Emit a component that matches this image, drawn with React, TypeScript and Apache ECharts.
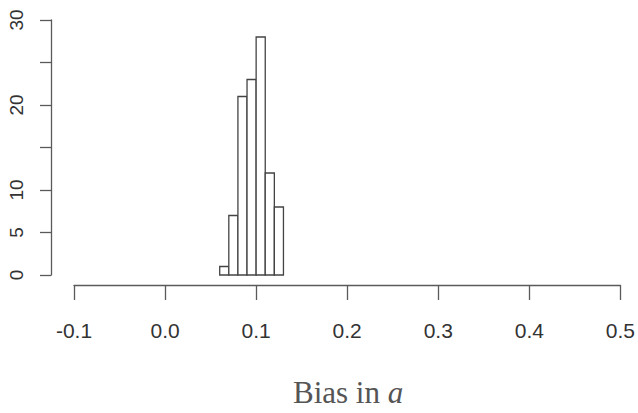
import React, { useEffect, useRef } from "react";
import * as echarts from "echarts";

// Histogram bin edges (width 0.01) and the counts in each bin
const binEdges = [0.06, 0.07, 0.08, 0.09, 0.1, 0.11, 0.12, 0.13];
const counts = [1, 7, 21, 23, 28, 12, 8];

// Axis ticks
const xTicks = [-0.1, 0.0, 0.1, 0.2, 0.3, 0.4, 0.5];
const yLabelled = [0, 5, 10, 20, 30];

const axisColor = "#5a5a5a";
const textColor = "#333";

export default function App() {
  const ref = useRef<HTMLDivElement>(null);

  useEffect(() => {
    if (!ref.current) return;
    const chart = echarts.init(ref.current, undefined, { renderer: "svg" });

    const data = counts.map((c, i) => [binEdges[i], binEdges[i + 1], c]);

    chart.setOption({
      animation: false,
      backgroundColor: "#fff",
      grid: { left: 74, right: 17, top: 20, bottom: 138 },
      title: {
        text: "{n|Bias in }{i|a}",
        left: 288,
        top: 372,
        textStyle: {
          fontWeight: "normal",
          rich: {
            n: {
              fontFamily: "Liberation Serif",
              fontSize: 31,
              fontWeight: "normal",
              color: "#555",
            },
            i: {
              fontFamily: "Liberation Serif",
              fontSize: 31,
              fontWeight: "normal",
              fontStyle: "italic",
              color: "#555",
            },
          },
        },
      },
      xAxis: {
        type: "value",
        min: xTicks[0],
        max: xTicks[xTicks.length - 1],
        interval: 0.1,
        offset: 10,
        axisLine: { show: true, onZero: false, lineStyle: { color: axisColor, width: 1.3 } },
        axisTick: { show: true, length: 15, lineStyle: { color: axisColor, width: 1.3 } },
        splitLine: { show: false },
        axisLabel: {
          margin: 35,
          fontFamily: "'Liberation Sans Narrow', 'Liberation Sans', sans-serif",
          fontSize: 21,
          color: textColor,
          showMinLabel: true,
          showMaxLabel: true,
          formatter: (v: number) => v.toFixed(1),
        },
      },
      yAxis: {
        type: "value",
        min: 0,
        max: 30,
        interval: 5,
        offset: 23,
        axisLine: { show: true, onZero: false, lineStyle: { color: axisColor, width: 1.3 } },
        axisTick: { show: true, length: 11, lineStyle: { color: axisColor, width: 1.3 } },
        splitLine: { show: false },
        axisLabel: {
          rotate: 90,
          margin: 25,
          fontFamily: "Liberation Sans",
          fontSize: 19,
          color: textColor,
          formatter: (v: number) => (yLabelled.indexOf(v) >= 0 ? String(v) : ""),
        },
      },
      series: [
        {
          type: "custom",
          data,
          encode: { x: [0, 1], y: 2 },
          renderItem: (params: any, api: any) => {
            const p0 = api.coord([api.value(0), 0]);
            const p1 = api.coord([api.value(1), api.value(2)]);
            return {
              type: "rect",
              shape: {
                x: p0[0],
                y: p1[1],
                width: p1[0] - p0[0],
                height: p0[1] - p1[1],
              },
              style: { fill: "#fff", stroke: "#444", lineWidth: 1.3 },
            };
          },
        },
      ],
    });

    return () => chart.dispose();
  }, []);

  return (
    <div
      ref={ref}
      style={{ position: "fixed", left: 0, top: 0, width: 638, height: 413, background: "#fff" }}
    />
  );
}
